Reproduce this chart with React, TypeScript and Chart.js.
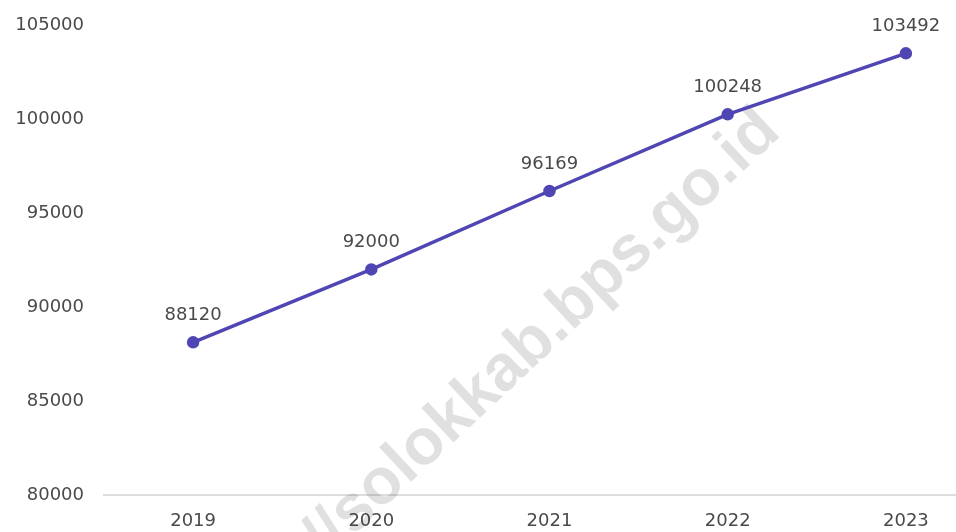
import React, { useEffect, useRef } from "react";
import { Chart, registerables } from "chart.js";

Chart.register(...registerables);

const years = ["2019", "2020", "2021", "2022", "2023"];
const values = [88120, 92000, 96169, 100248, 103492];
const yMin = 80000;
const yMax = 105000;
const yStep = 5000;
const watermark = "https://solokkab.bps.go.id";

const FONT = "'DejaVu Sans', sans-serif";
const LINE_COLOR = "#4f46b4";
const TEXT_COLOR = "#4a4a4a";

const watermarkPlugin = {
  id: "watermark",
  beforeDatasetsDraw(chart: any) {
    const ctx = chart.ctx;
    ctx.save();
    ctx.font = "bold 65px 'Liberation Sans', Arial, sans-serif";
    ctx.fillStyle = "rgba(0,0,0,0.12)";
    ctx.textAlign = "left";
    ctx.textBaseline = "alphabetic";
    const pre = "https://solokkab";
    const offset = ctx.measureText(pre).width + ctx.measureText(".").width / 2;
    ctx.translate(565, 338);
    ctx.rotate((-43.1 * Math.PI) / 180);
    ctx.fillText(watermark, -offset, 0);
    ctx.restore();
  },
};

const labelPlugin = {
  id: "pointLabels",
  afterDatasetsDraw(chart: any) {
    const ctx = chart.ctx;
    const meta = chart.getDatasetMeta(0);
    ctx.save();
    ctx.font = `18px ${FONT}`;
    ctx.fillStyle = TEXT_COLOR;
    ctx.textAlign = "center";
    ctx.textBaseline = "middle";
    meta.data.forEach((pt: any, i: number) => {
      ctx.fillText(String(values[i]), pt.x, pt.y - 27);
    });
    ctx.restore();
  },
};

export default function App() {
  const ref = useRef<HTMLCanvasElement>(null);

  useEffect(() => {
    if (!ref.current) return;
    const chart = new Chart(ref.current, {
      type: "line",
      data: {
        labels: years,
        datasets: [
          {
            data: values,
            borderColor: LINE_COLOR,
            backgroundColor: LINE_COLOR,
            borderWidth: 3.5,
            pointRadius: 4.5,
            pointBackgroundColor: LINE_COLOR,
            pointBorderColor: LINE_COLOR,
            tension: 0,
            fill: false,
          },
        ],
      },
      options: {
        responsive: false,
        animation: false,
        devicePixelRatio: 1,
        layout: { padding: { top: 25, left: 0, right: 0, bottom: 0 } },
        plugins: {
          legend: { display: false },
          tooltip: { enabled: false },
          title: { display: false },
        },
        scales: {
          x: {
            offset: true,
            grid: { display: false, drawTicks: false },
            border: { display: true, color: "#dddddd", width: 2 },
            ticks: {
              color: TEXT_COLOR,
              font: { family: FONT, size: 18 },
              padding: 16,
              maxRotation: 0,
            },
            afterFit(scale: any) {
              scale.height = 37;
            },
          },
          y: {
            min: yMin,
            max: yMax,
            grid: { display: false, drawTicks: false },
            border: { display: false },
            ticks: {
              stepSize: yStep,
              color: TEXT_COLOR,
              font: { family: FONT, size: 18 },
              padding: 20,
              callback: (v: any) => String(v),
            },
            afterFit(scale: any) {
              scale.width = 104;
              scale.paddingTop = 0;
              scale.paddingBottom = 0;
            },
          },
        },
      },
      plugins: [watermarkPlugin, labelPlugin],
    });
    return () => chart.destroy();
  }, []);

  return (
    <div
      style={{
        position: "fixed",
        left: 0,
        top: 0,
        width: 956,
        height: 532,
        overflow: "hidden",
        background: "#ffffff",
      }}
    >
      <canvas ref={ref} width={1003} height={532} style={{ display: "block" }} />
    </div>
  );
}
